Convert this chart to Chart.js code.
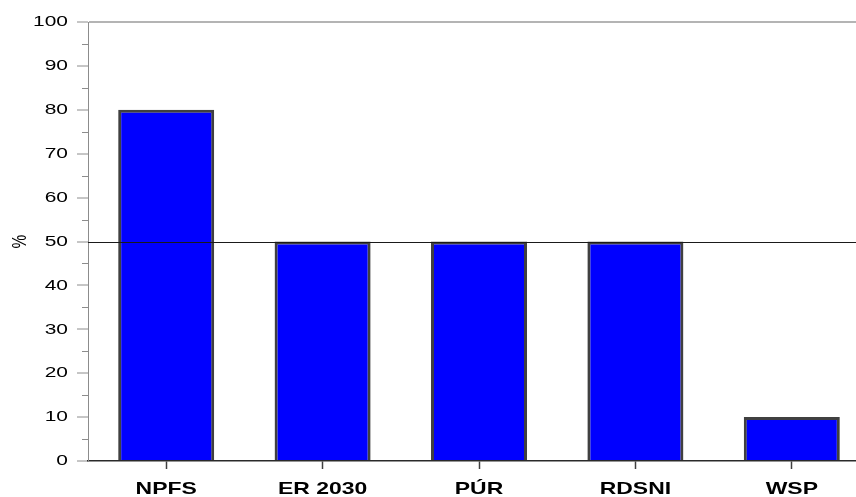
<!DOCTYPE html>
<html>
<head>
<meta charset="utf-8">
<script src="https://cdn.jsdelivr.net/npm/chart.js@4.4.0/dist/chart.umd.min.js"></script>
<style>
    html, body { margin: 0; padding: 0; background: #fff; overflow: hidden; }
    #wrap { position: relative; width: 870px; height: 497px; }
</style>
</head>
<body>
<div id="wrap"><canvas id="chart"></canvas></div>
<script>
    // datos del gráfico
    const categorias = ['NPFS', 'ER 2030', 'PÚR', 'RDSNI', 'WSP'];
    const valores = [80, 50, 50, 50, 10];
    const ejeY = [0, 10, 20, 30, 40, 50, 60, 70, 80, 90, 100];
    const lineaRef = 50;

    const colores = {
        barra: '#0000ff',
        borde: '#404040',
        eje: '#8c8c8c',
        marco: '#b4b4b4',
        texto: '#000000'
    };

    const FUENTE = "'Liberation Sans', Arial, sans-serif";
    const ESTIRAR = 1.35; // el original tiene el texto estirado en horizontal

    // texto ensanchado: envuelve fillText con una escala horizontal
    const textoAncho = {
        id: 'textoAncho',
        beforeDraw(chart) {
            const ctx = chart.ctx;
            if (ctx._ancho) return;
            const orig = ctx.fillText.bind(ctx);
            ctx.fillText = function(t, x, y) {
                const m = ctx.getTransform();
                ctx.save();
                ctx.translate(x, y);
                if (Math.abs(m.b) > 0.5) ctx.scale(1, ESTIRAR);
                else ctx.scale(ESTIRAR, 1);
                orig(t, 0, 0);
                ctx.restore();
            };
            ctx._ancho = true;
        }
    };

    // marcas menores del eje Y y línea de referencia al 50 %
    const extras = {
        id: 'extras',
        beforeDatasetsDraw(chart) {
            const { ctx, scales: { y }, chartArea } = chart;
            ctx.save();
            ctx.strokeStyle = colores.eje;
            ctx.lineWidth = 1;
            for (let i = 0; i < ejeY.length - 1; i++) {
                const v = (ejeY[i] + ejeY[i + 1]) / 2;
                const py = Math.round(y.getPixelForValue(v)) + 0.5;
                ctx.beginPath();
                ctx.moveTo(chartArea.left - 6, py);
                ctx.lineTo(chartArea.left, py);
                ctx.stroke();
            }
            ctx.restore();
        },
        afterDatasetsDraw(chart) {
            const { ctx, scales: { y }, chartArea } = chart;
            const py = Math.round(y.getPixelForValue(lineaRef)) + 0.5;
            ctx.save();
            ctx.strokeStyle = '#1a1a1a';
            ctx.lineWidth = 1.2;
            ctx.beginPath();
            ctx.moveTo(chartArea.left, py);
            ctx.lineTo(chartArea.right, py);
            ctx.stroke();
            ctx.restore();
        }
    };

    new Chart(document.getElementById('chart'), {
        type: 'bar',
        data: {
            labels: categorias,
            datasets: [{
                data: valores,
                backgroundColor: colores.barra,
                borderColor: colores.borde,
                borderWidth: 3,
                borderSkipped: 'start',
                categoryPercentage: 1,
                barPercentage: 0.614
            }]
        },
        options: {
            responsive: true,
            maintainAspectRatio: false,
            animation: false,
            layout: { padding: { top: 22, right: 0, bottom: 0, left: 0 } },
            plugins: {
                legend: { display: false },
                tooltip: { enabled: false }
            },
            scales: {
                x: {
                    offset: true,
                    grid: {
                        offset: false,
                        drawOnChartArea: false,
                        drawTicks: true,
                        tickLength: 8,
                        tickColor: colores.borde,
                        tickWidth: 1.5
                    },
                    border: { color: '#2a2a2a', width: 1.5 },
                    ticks: {
                        color: colores.texto,
                        padding: 10,
                        font: { family: FUENTE, size: 17, weight: 'bold' }
                    },
                    afterFit(scale) { scale.height = 36; }
                },
                y: {
                    min: ejeY[0],
                    max: ejeY[ejeY.length - 1],
                    afterBuildTicks(scale) { scale.ticks = ejeY.map(v => ({ value: v })); },
                    grid: {
                        drawOnChartArea: true,
                        color: c => (c.tick && c.tick.value === ejeY[ejeY.length - 1]) ? colores.marco : 'rgba(0,0,0,0)',
                        lineWidth: 2,
                        tickLength: 11,
                        tickColor: colores.eje,
                        tickWidth: 1
                    },
                    border: { color: colores.eje, width: 1 },
                    ticks: {
                        color: colores.texto,
                        padding: 9,
                        font: { family: FUENTE, size: 15.5 }
                    },
                    title: {
                        display: true,
                        text: '%',
                        color: colores.texto,
                        padding: { top: 11, bottom: 0 },
                        font: { family: FUENTE, size: 15.5 }
                    },
                    afterFit(scale) { scale.width = 88; }
                }
            }
        },
        plugins: [textoAncho, extras]
    });
</script>
</body>
</html>
